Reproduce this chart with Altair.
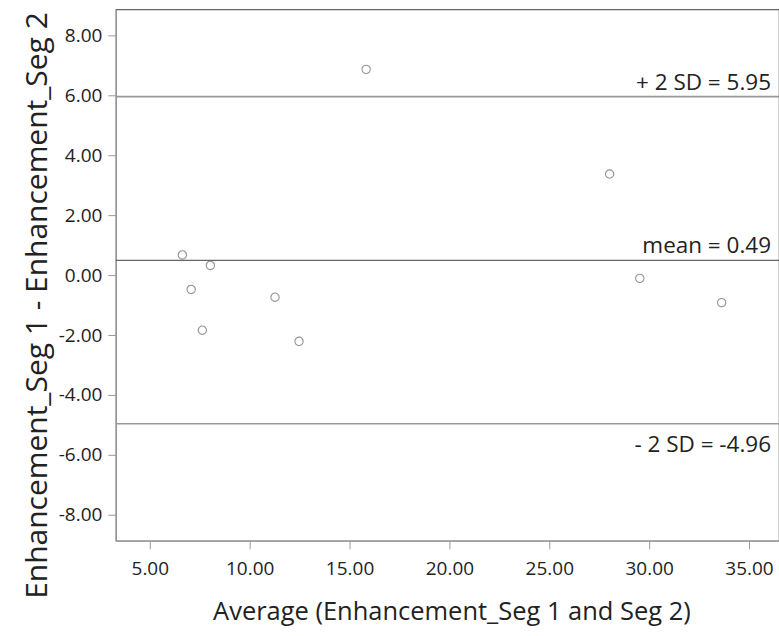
import altair as alt
import pandas as pd

# Data (Bland-Altman plot)
avg = [6.63, 7.07, 7.63, 8.03, 11.27, 12.47, 15.83, 28.02, 29.53, 33.63]
diff = [0.67, -0.48, -1.84, 0.32, -0.74, -2.21, 6.86, 3.37, -0.11, -0.92]

line_labels = ["+ 2 SD = 5.95", "mean = 0.49", "- 2 SD = -4.96"]
line_values = [5.95, 0.49, -4.96]
label_side = ["above", "above", "below"]
line_kind = ["sd", "mean", "sd"]

x_ticks = [5, 10, 15, 20, 25, 30, 35]
y_ticks = [-8, -6, -4, -2, 0, 2, 4, 6, 8]

x_domain = [3.3, 36.5]
y_domain = [-8.86, 8.86]

pts = pd.DataFrame({"avg": avg, "diff": diff})
lines = pd.DataFrame({"label": line_labels, "value": line_values,
                      "side": label_side, "kind": line_kind})

FONT = "Open Sans"
W, H = 664, 532
LABEL_EXPR = "replace(format(datum.value, '.2f'), '\u2212', '-')"

xscale = alt.Scale(domain=x_domain, nice=False, zero=False)
yscale = alt.Scale(domain=y_domain, nice=False, zero=False)

x_axis = alt.Axis(
    values=x_ticks, labelExpr=LABEL_EXPR, title="Average (Enhancement_Seg 1 and Seg 2)",
    grid=False, tickSize=8, tickColor="#999", domainColor="#999",
    labelFont=FONT, labelFontSize=19, labelColor="#222", labelPadding=11,
    titleFont=FONT, titleFontSize=25.5, titleFontWeight="normal", titleColor="#222",
    titlePadding=21, titleX=336,
)
y_axis = alt.Axis(
    values=y_ticks, labelExpr=LABEL_EXPR, title="Enhancement_Seg 1 - Enhancement_Seg 2",
    grid=False, tickSize=8, tickColor="#999", domainColor="#999",
    labelFont=FONT, labelFontSize=19, labelColor="#222", labelPadding=6,
    titleFont=FONT, titleFontSize=30, titleFontWeight="normal", titleColor="#222",
    titlePadding=6, titleY=296,
)

points = alt.Chart(pts).mark_point(
    shape="circle", filled=False, size=70, stroke="#666", strokeWidth=1.1
).encode(
    x=alt.X("avg:Q", scale=xscale, axis=x_axis),
    y=alt.Y("diff:Q", scale=yscale, axis=y_axis),
)

sd_rules = alt.Chart(lines).transform_filter(alt.datum.kind == "sd").mark_rule(
    color="#999", strokeWidth=1.6
).encode(y=alt.Y("value:Q", scale=yscale))

mean_rule = alt.Chart(lines).transform_filter(alt.datum.kind == "mean").mark_rule(
    color="#666", strokeWidth=1.3
).encode(y=alt.Y("value:Q", scale=yscale))

text_above = alt.Chart(lines).transform_filter(
    alt.datum.side == "above"
).mark_text(
    align="right", baseline="alphabetic", dy=-7, font=FONT, fontSize=22.5, color="#222"
).encode(
    x=alt.value(W - 8),
    y=alt.Y("value:Q", scale=yscale),
    text="label:N",
)

text_below = alt.Chart(lines).transform_filter(
    alt.datum.side == "below"
).mark_text(
    align="right", baseline="alphabetic", dy=28, font=FONT, fontSize=22.5, color="#222"
).encode(
    x=alt.value(W - 8),
    y=alt.Y("value:Q", scale=yscale),
    text="label:N",
)

chart = alt.layer(sd_rules, mean_rule, points, text_above, text_below).properties(
    width=W, height=H,
    autosize=alt.AutoSizeParams(type="none"),
    padding={"left": 116, "top": 9, "right": 0, "bottom": 95},
    background="white",
).configure_view(stroke="#666", strokeWidth=1.2)

chart.save("out.html", embed_options={"renderer": "svg", "actions": False})
